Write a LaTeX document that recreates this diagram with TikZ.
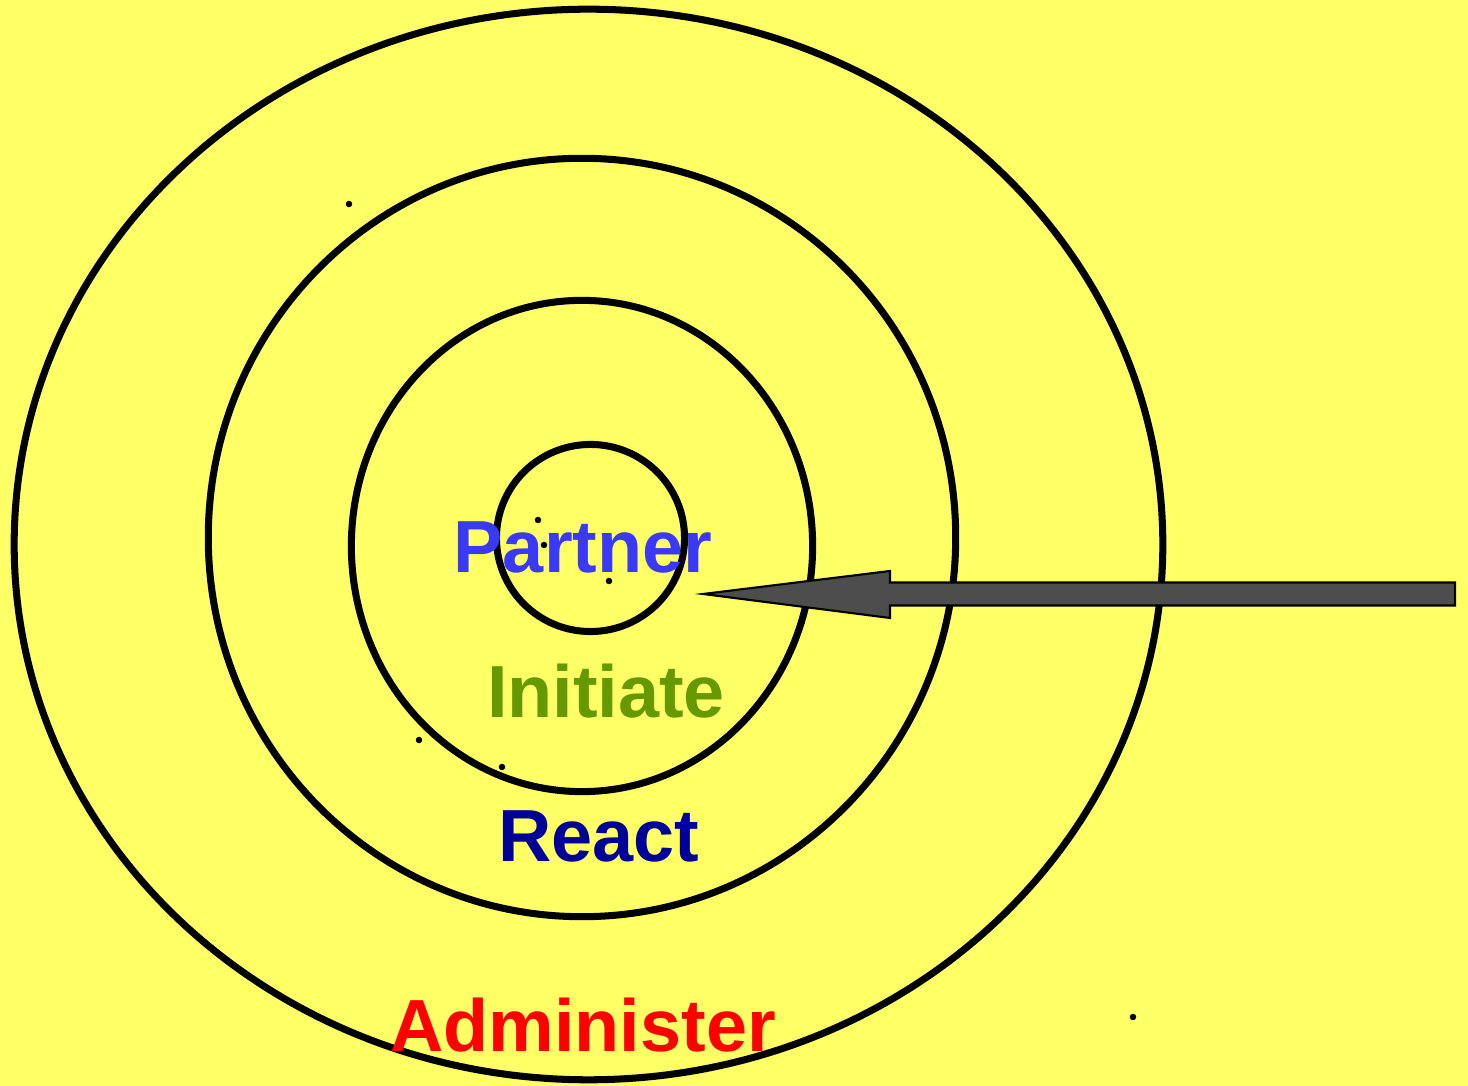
\documentclass[tikz,border=0pt]{standalone}
\usepackage{fontspec}
\setmainfont{Liberation Sans}
\usetikzlibrary{shapes.geometric, positioning, calc}
\definecolor{bgyellow}{HTML}{FFFF66}
\definecolor{partnerblue}{HTML}{3939F7}
\definecolor{initgreen}{HTML}{669900}
\definecolor{reactblue}{HTML}{000099}
\definecolor{adminred}{HTML}{FF0000}
\definecolor{arrowgray}{HTML}{4D4D4D}
\tikzset{
  ring/.style={
    ellipse, draw=black, line width=2pt,
    inner sep=0pt, fill=none,
  },
  stage/.style={
    anchor=base, inner sep=0pt,
    font=\fontsize{21}{25}\selectfont\bfseries,
  },
  speck/.style={circle, fill=black, inner sep=0pt, minimum size=0.065cm},
  pointer/.style={fill=arrowgray, draw=black, line width=0.6pt, line join=miter},
}

\begin{document}
\begin{tikzpicture}[x=0.01cm, y=-0.01cm]

  \fill[bgyellow] (0,0) rectangle (1468,1086);
  \useasboundingbox (0,0) rectangle (1468,1086);

  % rings, outside in
  \node[ring, minimum width=11.48cm, minimum height=10.70cm] (outer) at (588.5,544.5) {};
  \node[ring, minimum width=7.47cm, minimum height=7.58cm] (second) at (582,537.5) {};
  \node[ring, minimum width=4.61cm, minimum height=4.91cm] (third) at (582,546) {};
  \node[ring, minimum width=1.88cm, minimum height=1.87cm] (core) at (590.5,538) {};

  % stray dots
  \foreach \px/\py in {349/204, 538/520, 544/545, 609/581, 419/740, 502/767, 1133/1017}
    \node[speck] at (\px,\py) {};

  % labels
  \node[stage, text=partnerblue] (partner) at (583,573) {Partner};
  \node[stage, text=initgreen] (initiate) at (606,718) {Initiate};
  \node[stage, text=reactblue] (react) at (599,862) {React};
  \node[stage, text=adminred] (administer) at (583,1052) {Administer};

  % big arrow into the core
  \coordinate (tail) at (1455,594);
  \coordinate (tip) at (703,594);
  \draw[pointer] (tip) -- ($(tip)+(187,-23)$) -- ($(tip)+(187,-11.5)$)
    -- ($(tail)+(0,-11.5)$) -- ($(tail)+(0,11.5)$) -- ($(tip)+(187,11.5)$)
    -- ($(tip)+(187,24)$) -- cycle;

\end{tikzpicture}
\end{document}
